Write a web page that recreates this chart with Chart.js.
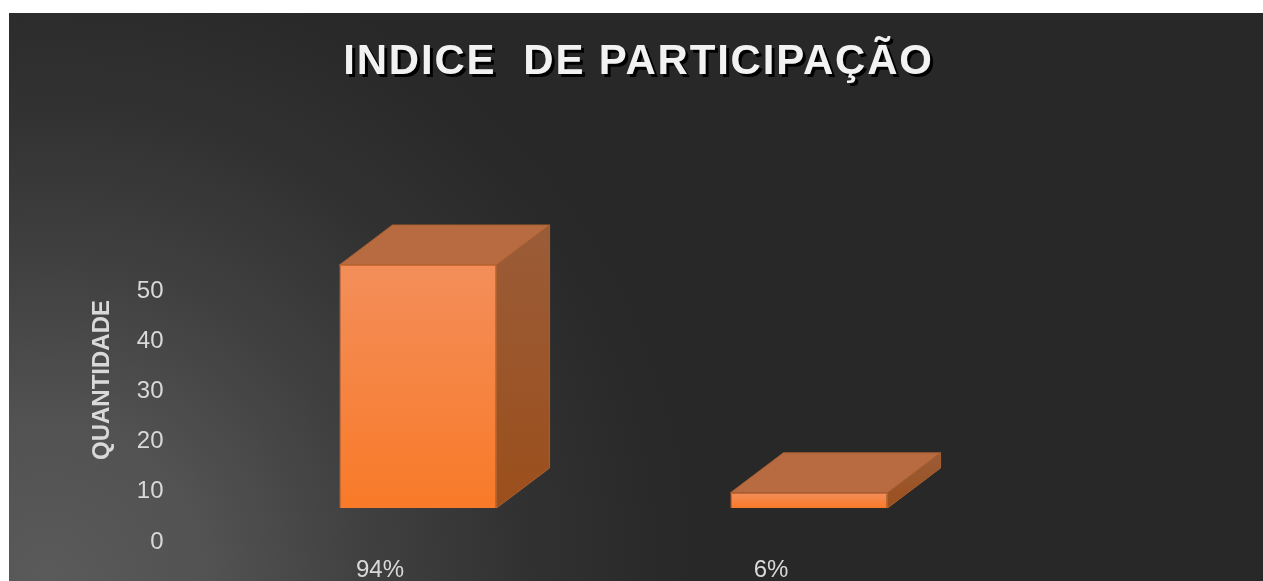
<!DOCTYPE html>
<html>
<head>
<meta charset="utf-8">
<title>Indice de participação</title>
<script src="https://cdn.jsdelivr.net/npm/chart.js@4/dist/chart.umd.js"></script>
<style>
  html, body { margin: 0; background: #fff; overflow: hidden; }
  #box { position: absolute; left: 9px; top: 13px; width: 1254px; height: 568px; }
</style>
</head>
<body>
<div id="box"><canvas id="chart"></canvas></div>
<script>
const categories = ['94%', '6%'];
const quantidade = [48, 3];
const yTicks = [0, 10, 20, 30, 40, 50];

const DEPTH_X = 53, DEPTH_Y = -40;
const FONT = '"Liberation Sans", Arial, sans-serif';

function vGrad(ctx, y0, y1, c0, c1){
  const g = ctx.createLinearGradient(0, y0, 0, y1);
  g.addColorStop(0, c0); g.addColorStop(1, c1);
  return g;
}

// dark background, lighter from the bottom left corner
const background = {
  id: 'background',
  beforeDraw(chart){
    const { ctx, width, height } = chart;
    const g = ctx.createRadialGradient(40, height, 0, 40, height, 640);
    g.addColorStop(0, '#5a5a5a');
    g.addColorStop(0.25, '#525252');
    g.addColorStop(0.5, '#404040');
    g.addColorStop(0.75, '#313131');
    g.addColorStop(1, '#282828');
    ctx.save();
    ctx.fillStyle = g;
    ctx.fillRect(0, 0, width, height);
    ctx.restore();
  }
};

// title gets letter spacing and a hard black shadow
const titleShadow = {
  id: 'titleShadow',
  afterLayout(chart){
    const t = chart.titleBlock;
    if (t._wrapped) return;
    const draw = t.draw;
    t.draw = function(){
      const ctx = chart.ctx;
      ctx.save();
      ctx.letterSpacing = '1.8px';
      ctx.shadowColor = '#000';
      ctx.shadowOffsetX = 3;
      ctx.shadowOffsetY = 3;
      draw.call(t);
      ctx.restore();
    };
    t._wrapped = true;
  }
};

// top and side faces of the 3D bars, taken from the bar elements
const faces = {
  id: 'faces',
  beforeDatasetsDraw(chart){
    const ctx = chart.ctx;
    for (const bar of chart.getDatasetMeta(0).data){
      const l = bar.x - bar.width / 2, r = bar.x + bar.width / 2;
      const top = bar.y, bot = bar.base;
      ctx.save();
      ctx.lineWidth = 1;
      ctx.strokeStyle = '#a8602f';
      ctx.fillStyle = '#b86b40';
      ctx.beginPath();
      ctx.moveTo(l, top);
      ctx.lineTo(l + DEPTH_X, top + DEPTH_Y);
      ctx.lineTo(r + DEPTH_X, top + DEPTH_Y);
      ctx.lineTo(r, top);
      ctx.closePath();
      ctx.fill();
      ctx.stroke();
      ctx.fillStyle = vGrad(ctx, top + DEPTH_Y, bot, '#9a5c38', '#9c4f1c');
      ctx.beginPath();
      ctx.moveTo(r, top);
      ctx.lineTo(r + DEPTH_X, top + DEPTH_Y);
      ctx.lineTo(r + DEPTH_X, bot + DEPTH_Y);
      ctx.lineTo(r, bot);
      ctx.closePath();
      ctx.fill();
      ctx.stroke();
      ctx.restore();
    }
  }
};

new Chart(document.getElementById('chart'), {
  type: 'bar',
  data: {
    labels: categories,
    datasets: [{
      data: quantidade,
      yAxisID: 'yBars',
      barPercentage: 0.402,
      categoryPercentage: 1,
      borderWidth: 1,
      borderColor: '#d0682f',
      backgroundColor(c){
        const s = c.chart.scales.yBars;
        const y0 = s ? s.getPixelForValue(c.raw) : NaN, y1 = s ? s.getPixelForValue(0) : NaN;
        if (!isFinite(y0) || !isFinite(y1)) return '#f58d57';
        return vGrad(c.chart.ctx, y0, y1, '#f38e5a', '#f97a28');
      }
    }]
  },
  options: {
    responsive: true,
    maintainAspectRatio: false,
    animation: false,
    layout: { padding: { left: 5 } },
    plugins: {
      legend: { display: false },
      tooltip: { enabled: false },
      title: {
        display: true,
        text: 'INDICE  DE PARTICIPAÇÃO',
        color: '#f2f2f2',
        font: { family: FONT, size: 42, weight: 'bold' },
        padding: { top: 24, bottom: 131.6 }
      }
    },
    scales: {
      x: {
        grid: { display: false },
        border: { display: false },
        afterFit(a){ a.height = 40; },
        ticks: { color: '#d9d9d9', font: { family: FONT, size: 24 }, padding: 7, labelOffset: -38, maxRotation: 0 }
      },
      y: {
        min: 0.2,
        max: 64.34,
        grid: { display: false },
        border: { display: false },
        afterBuildTicks(a){ a.ticks = yTicks.map(value => ({ value })); },
        // tick padding also counts as vertical margin, which would push the x axis up
        afterFit(a){ a.width = 208.5; a.paddingTop = 0; a.paddingBottom = 0; },
        ticks: { color: '#d9d9d9', font: { family: FONT, size: 24 }, padding: 51 },
        title: {
          display: true,
          text: 'QUANTIDADE',
          color: '#d9d9d9',
          font: { family: FONT, size: 24, weight: 'bold' },
          padding: { top: 74, bottom: 0 }
        }
      },
      // bars stand above the tick zero, like the floor of the original 3D plot.
      // the axis is invisible, it only keeps the empty space on the right
      yBars: {
        position: 'right',
        min: -6.52,
        max: 57.09,
        grid: { display: false },
        border: { display: false },
        ticks: { display: false },
        afterFit(a){ a.width = 258.5; }
      }
    }
  },
  plugins: [background, titleShadow, faces]
});
</script>
</body>
</html>
